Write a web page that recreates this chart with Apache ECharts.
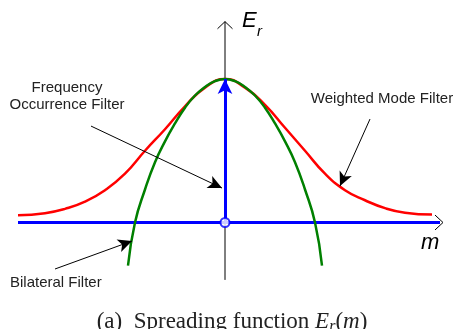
<!DOCTYPE html>
<html>
<head>
<meta charset="utf-8">
<script src="https://cdn.jsdelivr.net/npm/echarts@6/dist/echarts.min.js"></script>
<style>
  html, body { margin: 0; padding: 0; background: #fff; }
  #spreading-chart { width: 454px; height: 329px; }
</style>
</head>
<body>
<div id="spreading-chart"></div>
<script>
// points, m on x, E_r on y
const weightedM = [-10.35, -9, -8, -7, -6, -5, -4, -3, -2, -1, 0, 1, 2, 3, 4, 5, 6, 7, 8, 9, 10.35]
const weightedE = [0.05, 0.065, 0.095, 0.145, 0.225, 0.34, 0.5, 0.65, 0.81, 0.94, 1.0, 0.94, 0.82, 0.66, 0.5, 0.34, 0.225, 0.155, 0.1, 0.068, 0.055]

const bilateralM = [-4.85, -4.5, -4, -3.5, -3, -2.5, -2, -1.5, -1, -0.5, 0, 0.5, 1, 1.5, 2, 2.5, 3, 3.5, 4, 4.5, 4.85]
const bilateralE = [-0.3, 0, 0.23, 0.42, 0.565, 0.69, 0.8, 0.885, 0.945, 0.985, 1.0, 0.985, 0.945, 0.885, 0.8, 0.69, 0.565, 0.42, 0.23, 0, -0.3]

// frequency occurrence filter: a single spike at m = 0
const freqM = [0]
const freqE = [1.0]

// axes
const mAxisRange = [-10.35, 10.75]
const eAxisRange = [-0.4, 1.4]

// annotation arrows [from, to] in (m, E)
const noteArrows = [
  [[-6.7, 0.672], [-0.15, 0.24]],
  [[7.25, 0.721], [5.75, 0.254]],
  [[-8.5, -0.324], [-4.65, -0.129]]
]

const pairs = (xs, ys) => xs.map((x, i) => [x, ys[i]])

const ctx = document.createElement('canvas').getContext('2d')
function textWidth(str, font){
  ctx.font = font
  return ctx.measureText(str).width
}

// caption pieces
const capSize = 23
const serif = '"Liberation Serif", "Times New Roman", serif'
const capParts = [
  {text: '(a)  Spreading function ', style: 'normal', size: capSize, dy: 0},
  {text: 'E', style: 'italic', size: capSize, dy: 0},
  {text: 'r', style: 'italic', size: 16, dy: 9},
  {text: '(', style: 'normal', size: capSize, dy: 0},
  {text: 'm', style: 'italic', size: capSize, dy: 0},
  {text: ')', style: 'normal', size: capSize, dy: 0}
]
let capTotal = 0
capParts.forEach(p => {
  p.w = textWidth(p.text, p.style + ' ' + p.size + 'px ' + serif)
  capTotal += p.w
})
let capX = 232 - capTotal / 2
const capGraphics = capParts.map(p => {
  const g = {
    type: 'text', left: capX, top: 310 + p.dy,
    style: {text: p.text, font: p.style + ' ' + p.size + 'px ' + serif, fill: '#222'}
  }
  capX += p.w
  return g
})

const sans = '"Liberation Sans", Arial, sans-serif'

const myChart = echarts.init(document.getElementById('spreading-chart'))
myChart.setOption({
  animation: false,
  grid: {left: 5, right: 9, top: 7.25, bottom: 6.05},
  xAxis: {type: 'value', min: -11, max: 11, show: false},
  yAxis: {type: 'value', min: -0.7, max: 1.5, show: false},
  series: [
    {
      // vertical axis with open arrow
      type: 'line', z: 1, symbol: 'none', silent: true,
      data: [[0, eAxisRange[0]], [0, eAxisRange[1]]],
      lineStyle: {color: '#000', width: 1},
      markLine: {
        silent: true, symbol: 'none', label: {show: false},
        lineStyle: {color: '#000', width: 1, type: 'solid'},
        data: [
          [{coord: [-0.375, eAxisRange[1] - 0.05]}, {coord: [0, eAxisRange[1]]}],
          [{coord: [0.375, eAxisRange[1] - 0.05]}, {coord: [0, eAxisRange[1]]}],
          [{coord: [mAxisRange[1] - 0.25, 0.052]}, {coord: [mAxisRange[1] + 0.15, 0]}],
          [{coord: [mAxisRange[1] - 0.25, -0.052]}, {coord: [mAxisRange[1] + 0.15, 0]}]
        ]
      }
    },
    {
      // horizontal axis, blue
      type: 'line', z: 2, symbol: 'none', silent: true,
      data: [[mAxisRange[0], 0], [mAxisRange[1], 0]],
      lineStyle: {color: '#0000ff', width: 3}
    },
    {
      name: 'Weighted Mode Filter',
      type: 'line', z: 3, symbol: 'none', smooth: 0.5,
      data: pairs(weightedM, weightedE),
      lineStyle: {color: '#ff0000', width: 2.5}
    },
    {
      name: 'Bilateral Filter',
      type: 'line', z: 4, symbol: 'none', smooth: 0.5,
      data: pairs(bilateralM, bilateralE),
      lineStyle: {color: '#008000', width: 2.5}
    },
    {
      name: 'Frequency Occurrence Filter',
      type: 'scatter', z: 5, symbol: 'none', silent: true,
      data: pairs(freqM, freqE),
      markLine: {
        silent: true, symbol: ['none', 'arrow'], symbolSize: [11, 15],
        label: {show: false},
        lineStyle: {color: '#0000ff', width: 3, type: 'solid'},
        data: freqM.map((m, i) => [{coord: [m, 0]}, {coord: [m, freqE[i]]}])
      }
    },
    {
      // open circle at the origin
      type: 'scatter', z: 6, silent: true,
      data: [[0, 0]],
      symbol: 'circle', symbolSize: 9,
      itemStyle: {color: '#fff', borderColor: '#0000ff', borderWidth: 2}
    },
    {
      // annotation arrows
      type: 'scatter', z: 7, symbol: 'none', silent: true, data: [],
      markLine: {
        silent: true, symbol: ['none', 'arrow'], symbolSize: [10, 14],
        label: {show: false},
        lineStyle: {color: '#000', width: 1, type: 'solid'},
        data: noteArrows.map(a => [{coord: a[0]}, {coord: a[1]}])
      }
    }
  ],
  graphic: [
    {type: 'text', left: 242, top: 10, style: {text: 'E', font: 'italic 22px ' + sans, fill: '#000'}},
    {type: 'text', left: 257, top: 24, style: {text: 'r', font: 'italic 15px ' + sans, fill: '#000'}},
    {type: 'text', left: 421, top: 232, style: {text: 'm', font: 'italic 22px ' + sans, fill: '#000'}},
    {type: 'text', x: 67, y: 88, style: {text: 'Frequency', font: '15px ' + sans, fill: '#222', align: 'center', verticalAlign: 'middle'}},
    {type: 'text', x: 67, y: 105, style: {text: 'Occurrence Filter', font: '15px ' + sans, fill: '#222', align: 'center', verticalAlign: 'middle'}},
    {type: 'text', x: 382, y: 99, style: {text: 'Weighted Mode Filter', font: '15px ' + sans, fill: '#222', align: 'center', verticalAlign: 'middle'}},
    {type: 'text', x: 10, y: 283, style: {text: 'Bilateral Filter', font: '15px ' + sans, fill: '#222', align: 'left', verticalAlign: 'middle'}}
  ].concat(capGraphics)
})
</script>
</body>
</html>
